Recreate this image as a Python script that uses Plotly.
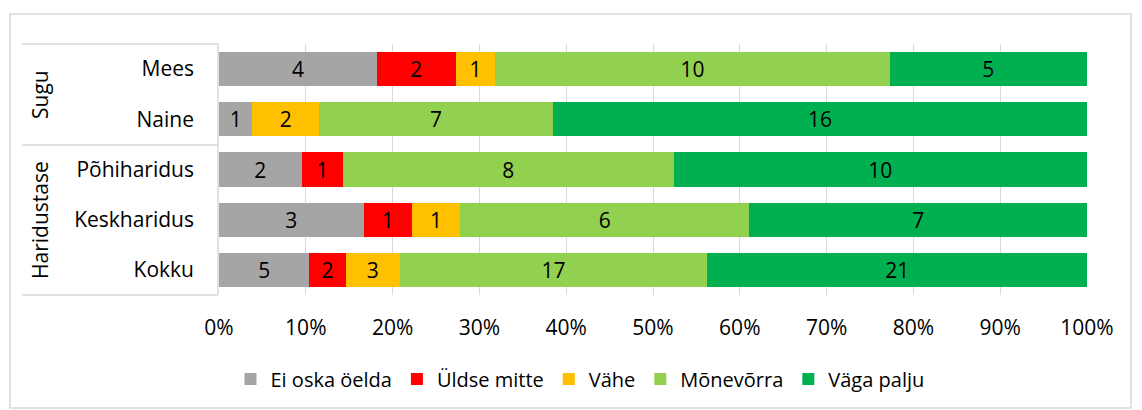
import plotly.graph_objects as go

groups = ["Sugu", "Sugu", "Haridustase", "Haridustase", "Haridustase"]
categories = ["Mees", "Naine", "Põhiharidus", "Keskharidus", "Kokku"]
series_names = ["Ei oska öelda", "Üldse mitte", "Vähe", "Mõnevõrra", "Väga palju"]
ei_oska = [4, 1, 2, 3, 5]
uldse_mitte = [2, 0, 1, 1, 2]
vahe = [1, 2, 0, 1, 3]
monevorra = [10, 7, 8, 6, 17]
vaga_palju = [5, 16, 10, 7, 21]
colors = ["#A5A5A5", "#FF0000", "#FFC000", "#92D050", "#00B050"]
x_ticks = [0, 10, 20, 30, 40, 50, 60, 70, 80, 90, 100]

FONT = "Open Sans, sans-serif"
FS = 21

fig = go.Figure()
for name, vals, col in zip(series_names, [ei_oska, uldse_mitte, vahe, monevorra, vaga_palju], colors):
    fig.add_trace(go.Bar(
        y=categories, x=vals, name=name, orientation="h",
        marker=dict(color=col, line=dict(width=0)),
        text=[str(v) if v else "" for v in vals],
        textposition="inside", insidetextanchor="middle",
        textfont=dict(color="black", size=FS, family=FONT),
        textangle=0, hoverinfo="skip",
    ))

OFF = 8  # page body margin
W, H = 1142 - OFF, 410 - OFF
L, T = 219 - OFF, 44 - OFF
R = W - (1087 - OFF)
B = H - (295 - OFF)
pw, ph = W - L - R, H - T - B

def px(xs):
    return (xs - 219) / pw

def py(ys):
    return (295 - ys) / ph

fig.update_layout(
    barmode="stack", barnorm="percent", bargap=0.32,
    width=W, height=H,
    margin=dict(l=L, r=R, t=T, b=B),
    paper_bgcolor="white", plot_bgcolor="white",
    font=dict(family=FONT, size=FS, color="black"),
    uniformtext=dict(minsize=8, mode="show"),
    xaxis=dict(range=[0, 100], tickvals=x_ticks, ticktext=[f"{t}%" for t in x_ticks],
               showgrid=True, gridcolor="#D9D9D9", gridwidth=1.3,
               zeroline=False, showline=False, ticks="",
               tickfont=dict(size=FS), ticklabelstandoff=18, fixedrange=True,
               automargin=False),
    yaxis=dict(autorange="reversed", showgrid=False, showline=False, ticks="",
               tickfont=dict(size=FS), ticklabelstandoff=24, fixedrange=True,
               automargin=False),
    legend=dict(orientation="h", x=px(580), xanchor="center", y=py(379), yanchor="middle",
                font=dict(size=20), traceorder="normal", itemwidth=30,
                itemsizing="constant"),
    showlegend=True,
)

line = dict(color="#D9D9D9", width=1.5)
fig.add_shape(type="rect", xref="paper", yref="paper",
              x0=px(10), x1=px(1131), y0=py(408), y1=py(14), line=line, layer="below")
for yy in [44, 145, 295]:
    fig.add_shape(type="line", xref="paper", yref="paper",
                  x0=px(22), x1=px(218), y0=py(yy), y1=py(yy), line=line)
fig.add_shape(type="line", xref="paper", yref="paper",
              x0=px(218), x1=px(218), y0=py(44), y1=py(295), line=line)

for g, ymid in [("Sugu", 95), ("Haridustase", 220)]:
    fig.add_annotation(text=g, xref="paper", yref="paper", x=px(40), y=py(ymid),
                       textangle=-90, showarrow=False, font=dict(size=FS),
                       xanchor="center", yanchor="middle")

fig.write_html("out.html")
